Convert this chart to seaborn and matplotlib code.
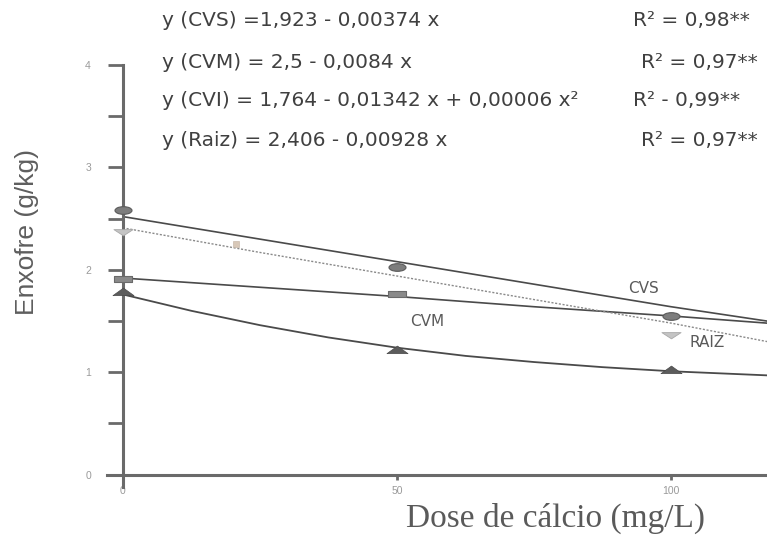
import numpy as np
import pandas as pd
import seaborn as sns
import matplotlib
matplotlib.use("Agg")
import matplotlib.pyplot as plt
from matplotlib.path import Path
from matplotlib.ticker import MultipleLocator, FixedLocator

# ---------------- data ----------------
line_x = [0, 25, 50, 75, 100, 117.5]
cvm_line = [2.52, 2.30, 2.08, 1.86, 1.64, 1.50]
cvs_line = [1.92, 1.83, 1.74, 1.64, 1.55, 1.48]
raiz_line = [2.41, 2.17, 1.94, 1.71, 1.48, 1.30]
cvi_line_x = [0, 12.5, 25, 37.5, 50, 62.5, 75, 87.5, 100, 117.5]
cvi_line = [1.76, 1.60, 1.46, 1.34, 1.24, 1.16, 1.10, 1.05, 1.01, 0.97]

cvm_x = [0, 50, 100]
cvm_y = [2.58, 2.03, 1.55]
cvs_x = [0, 50]
cvs_y = [1.91, 1.76]
cvi_x = [0, 50, 100]
cvi_y = [1.78, 1.22, 1.02]
raiz_x = [0, 100]
raiz_y = [2.37, 1.36]
extra_x = [20.6]
extra_y = [2.25]

x_ticks = [0, 50, 100]
y_ticks = [0, 1, 2, 3, 4]

equations = [
    "y (CVS) =1,923 - 0,00374 x",
    "y (CVM) = 2,5 - 0,0084 x",
    "y (CVI) = 1,764 - 0,01342 x + 0,00006 x²",
    "y (Raiz) = 2,406 - 0,00928 x",
]
r2_texts = ["R² = 0,98**", "R² = 0,97**", "R² - 0,99**", "R² = 0,97**"]

# ---------------- styling ----------------
sns.set_theme(style="white")
plt.rcParams["font.family"] = ["Liberation Sans", "DejaVu Sans"]

W, H = 767, 537
fig = plt.figure(figsize=(W / 100, H / 100), dpi=100)

x_min, x_max = -2.9, 117.5
y_min, y_max = -0.12, 4.0
left_px, right_px = 107, 767
top_px, bottom_px = 65, 487
ax = fig.add_axes([left_px / W, 1 - bottom_px / H,
                   (right_px - left_px) / W, (bottom_px - top_px) / H])
ax.set_xlim(x_min, x_max)
ax.set_ylim(y_min, y_max)


def shape(verts):
    verts = np.asarray(verts, float)
    codes = [Path.MOVETO] + [Path.LINETO] * (len(verts) - 2) + [Path.CLOSEPOLY]
    return Path(verts, codes)


circ = Path.unit_circle()
ellipse = Path(circ.vertices * np.array([1.0, 0.45]), circ.codes)
rect = shape([[-1, -0.38], [1, -0.38], [1, 0.38], [-1, 0.38], [-1, -0.38]])
tri_up = shape([[-1, -0.3], [1, -0.3], [0, 0.42], [-1, -0.3]])
tri_dn = shape([[-1, 0.3], [1, 0.3], [0, -0.35], [-1, 0.3]])

line_col = "#4a4a4a"
sns.lineplot(x=line_x, y=cvm_line, ax=ax, color=line_col, linewidth=1.2)
sns.lineplot(x=line_x, y=cvs_line, ax=ax, color=line_col, linewidth=1.2)
sns.lineplot(x=cvi_line_x, y=cvi_line, ax=ax, color=line_col, linewidth=1.3)
sns.lineplot(x=line_x, y=raiz_line, ax=ax, color="#8a8a8a", linewidth=1.0,
             linestyle=(0, (1.5, 1.2)))

sns.scatterplot(x=cvm_x, y=cvm_y, ax=ax, marker=ellipse, s=150,
                color="#7d7d7d", edgecolor="#5a5a5a", linewidth=0.8, zorder=5)
sns.scatterplot(x=cvs_x, y=cvs_y, ax=ax, marker=rect, s=150,
                color="#8a8a8a", edgecolor="#6a6a6a", linewidth=0.8, zorder=5)
sns.scatterplot(x=cvi_x, y=cvi_y, ax=ax, marker=tri_up, s=230,
                color="#5c5c5c", edgecolor="#4a4a4a", linewidth=0.5, zorder=5)
sns.scatterplot(x=raiz_x, y=raiz_y, ax=ax, marker=tri_dn, s=190,
                color="#c4c4c4", edgecolor="#a8a8a8", linewidth=0.6, zorder=5)
sns.scatterplot(x=extra_x, y=extra_y, ax=ax, marker="s", s=18,
                color="#d8c8b8", edgecolor="#c0b0a0", linewidth=0.4, zorder=5)

# spines
for side in ["top", "right"]:
    ax.spines[side].set_visible(False)
spine_col = "#6a6a6a"
ax.spines["left"].set_position(("data", 0))
ax.spines["bottom"].set_position(("data", 0))
for side in ["left", "bottom"]:
    ax.spines[side].set_color(spine_col)
    ax.spines[side].set_linewidth(2.2)

# ticks
ax.yaxis.set_major_locator(FixedLocator(y_ticks))
ax.yaxis.set_minor_locator(MultipleLocator(0.5))
ax.xaxis.set_major_locator(FixedLocator(x_ticks))
ax.xaxis.set_minor_locator(FixedLocator([25, 75]))
ax.tick_params(axis="y", which="both", direction="out", length=11, width=2,
               color=spine_col, pad=12, labelsize=7.5, labelcolor="#9a9a9a",
               left=True)
ax.tick_params(axis="x", which="major", direction="out", length=3.5, width=2,
               color=spine_col, pad=4.5, labelsize=7.5, labelcolor="#9a9a9a",
               bottom=True)
ax.tick_params(axis="x", which="minor", direction="out", length=1.5, width=1.5,
               color=spine_col, bottom=True)
ax.grid(False)
ax.set_facecolor("white")

wide = ["DejaVu Sans"]

# curve labels
lab_kw = dict(fontsize=11, color="#5a5a5a", ha="center", va="center",
              family=wide)
ax.text(95, 1.82, "CVS", **lab_kw)
ax.text(55.5, 1.50, "CVM", **lab_kw)
ax.text(106.5, 1.29, "RAIZ", **lab_kw)

# equations
eq_rows = [21, 62, 101, 140]
r2_x = [633, 641, 633, 641]
for row, eq, r2, rx in zip(eq_rows, equations, r2_texts, r2_x):
    fig.text(162 / W, 1 - row / H, eq, fontsize=14.5, color="#404040",
             ha="left", va="center", family=wide)
    fig.text(rx / W, 1 - row / H, r2, fontsize=14.5, color="#404040",
             ha="left", va="center", family=wide)

# axis labels
fig.text(27 / W, 1 - 232 / H, "Enxofre (g/kg)", rotation=90, fontsize=19,
         color="#5e5e5e", ha="center", va="center")
fig.text(556 / W, 1 - 518 / H, "Dose de cálcio (mg/L)", fontsize=24,
         color="#5a5a5a", ha="center", va="center",
         family=["Liberation Serif", "DejaVu Serif"])

fig.savefig("out.png", dpi=100, facecolor="white")
